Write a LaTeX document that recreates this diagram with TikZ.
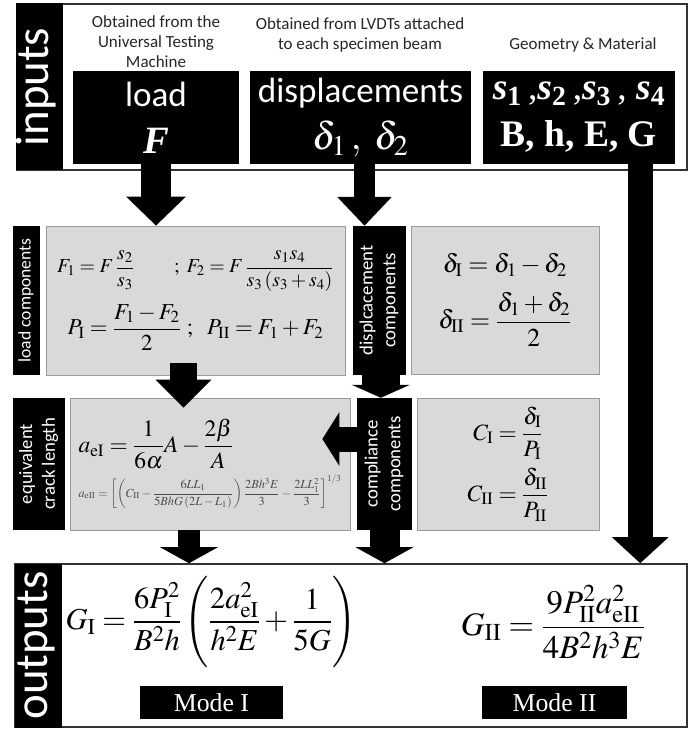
\documentclass[tikz,border=0pt]{standalone}
\usepackage{mathptmx}
\usepackage{graphicx}
\usepackage{fontspec}
\setmainfont{Liberation Serif}
\newfontfamily\calibri{Carlito}
\usetikzlibrary{arrows.meta,positioning}

\newcommand\vtext[1]{\rotatebox{90}{\begin{tabular}{@{}c@{}}#1\end{tabular}}}
\newcommand\bsub[1]{\textbf{\textit{s}}\textsubscript{\textbf{#1}}}

\tikzset{
  px/.style 2 args={minimum width=#1*0.3mm, minimum height=#2*0.3mm},
  blackbox/.style={fill=black, text=white, inner sep=0pt, align=center},
  graybox/.style={fill=black!15, draw=black!40, line width=0.6pt, inner sep=0pt},
  framebox/.style={draw=black!80, line width=1.3pt, inner sep=0pt},
  caption/.style={font=\calibri\fontsize{14.5}{17}\selectfont, align=center, text=black!85},
  sidelabel/.style={blackbox, font=\calibri\fontsize{16}{19.5}\selectfont},
  biglabel/.style={blackbox, font=\calibri\fontsize{40}{40}\selectfont},
  fat/.style n args={3}{line width=#1, -{Triangle[width=#2, length=#3]}},
}

\begin{document}
\begin{tikzpicture}[x=0.3mm, y=-0.3mm]
\useasboundingbox (0,0) rectangle (697,731);

% inputs
\node[framebox, px={670}{166}] (inframe) at (352,87) {};
\node[biglabel, px={45}{167}] (inlabel) at (39.5,87) {\vtext{inputs}};

\node[caption] (cap1) at (156,42) {Obtained from the\\Universal Testing\\Machine};
\node[caption] (cap2) at (360,35) {Obtained from LVDTs attached\\to each specimen beam};
\node[caption] (cap3) at (583,45) {Geometry \& Material};

\node[blackbox, px={166}{93}, font=\calibri\fontsize{30}{40}\selectfont] (load) at (156,117.5)
  {load\\{\rmfamily\bfseries\itshape\fontsize{33}{40}\selectfont F}};
\node[blackbox, px={221}{93}, font=\calibri\fontsize{30}{40}\selectfont] (disp) at (360.5,117.5)
  {displacements\\{\fontsize{33}{40}\selectfont$\delta_1\,,\ \delta_2$}};
\node[blackbox, px={192}{93}, font=\rmfamily\fontsize{32}{40}\selectfont] (geom) at (579,117.5)
  {\bsub{1}\,,\bsub{2}\,,\bsub{3}\,, \bsub{4}\\\textbf{B, h, E, G}};

% load and displacement components
\node[sidelabel, px={27}{149}, font=\calibri\fontsize{15}{18}\selectfont] (lclabel) at (26.5,300.5) {\vtext{load components}};
\node[graybox, px={299}{149}, align=center, font=\fontsize{17}{20}\selectfont] (lcgray) at (195.5,300.5)
  {$\displaystyle F_1 = F\,\frac{s_2}{s_3}\qquad ;\ F_2 = F\,\frac{s_1s_4}{s_3\left(s_3+s_4\right)}$\\[10pt]
   {\fontsize{19.5}{22}\selectfont$\displaystyle P_{\mathrm{I}} = \frac{F_1-F_2}{2}\ ;\ \ P_{\mathrm{II}} = F_1+F_2$}};
\node[sidelabel, px={53}{149}] (dclabel) at (379.5,300.5) {\vtext{displcacement\\components}};
\node[graybox, px={188}{148}, align=center, font=\fontsize{22}{26}\selectfont] (dcgray) at (505,300)
  {$\delta_{\mathrm{I}} = \delta_1-\delta_2$\\[12pt]
   $\displaystyle \delta_{\mathrm{II}} = \frac{\delta_1+\delta_2}{2}$};

% crack length and compliance
\node[sidelabel, px={52}{132}] (eqlabel) at (39,464) {\vtext{equivalent\\crack length}};
\node[graybox, px={280}{132}, align=left, font=\fontsize{20}{24}\selectfont] (eqgray) at (210,464)
  {$\displaystyle a_{\mathrm{eI}} = \frac{1}{6\alpha}A-\frac{2\beta}{A}$\\[4pt]
   {\color{black!70}\fontsize{10.5}{13}\selectfont$\displaystyle a_{\mathrm{eII}} = \left[\left(C_{\mathrm{II}}-\frac{6LL_1}{5BhG\left(2L-L_1\right)}\right)\frac{2Bh^3E}{3}-\frac{2LL_1^2}{3}\right]^{1/3}$}};
\node[sidelabel, px={55}{132}] (cclabel) at (384.5,464) {\vtext{compliance\\components}};
\node[graybox, px={182}{132}, align=center, font=\fontsize{20}{24}\selectfont] (ccgray) at (508,464)
  {$\displaystyle C_{\mathrm{I}} = \frac{\delta_{\mathrm{I}}}{P_{\mathrm{I}}}$\\[6pt]
   $\displaystyle C_{\mathrm{II}} = \frac{\delta_{\mathrm{II}}}{P_{\mathrm{II}}}$};

% outputs
\node[framebox, px={672}{163}] (outframe) at (351,645.5) {};
\node[biglabel, px={47}{164}] (outlabel) at (38.5,645.5) {\vtext{outputs}};
\node[font=\fontsize{26}{30}\selectfont] (gone) at (211,622)
  {$\displaystyle G_{\mathrm{I}} = \frac{6P_{\mathrm{I}}^2}{B^2h}\left(\frac{2a_{\mathrm{eI}}^2}{h^2E}+\frac{1}{5G}\right)$};
\node[font=\fontsize{28}{32}\selectfont] (gtwo) at (553,622)
  {$\displaystyle G_{\mathrm{II}} = \frac{9P_{\mathrm{II}}^2a_{\mathrm{eII}}^2}{4B^2h^3E}$};
\node[blackbox, px={143}{33}, font=\fontsize{22}{26}\selectfont] (modeone) at (211.5,702.5) {Mode I};
\node[blackbox, px={145}{33}, font=\fontsize{22}{26}\selectfont] (modetwo) at (554.5,702.5) {Mode II};

% block arrows
\draw[fat={9mm}{17.4mm}{8.7mm}] (load.south) -- (load.south |- lcgray.north);
\draw[fat={6.3mm}{15.9mm}{8.7mm}] ([xshift=1.2mm]disp.south) -- ([xshift=1.2mm]disp.south |- dclabel.north);
\draw[fat={7.5mm}{16.5mm}{7.8mm}] ([xshift=-10.5mm]geom.south east) -- ([xshift=-10.5mm]geom.south east |- outframe.north);
\draw[fat={8.1mm}{16.2mm}{8.4mm}] ([xshift=-3.6mm,yshift=3.6mm]lcgray.south) -- ([xshift=-3.6mm,yshift=-3mm]lcgray.south |- eqgray.north);
\draw[fat={11.4mm}{17.4mm}{3.9mm}] ([xshift=0.4mm,yshift=1mm]dclabel.south) -- ([xshift=0.4mm]dclabel.south |- cclabel.north);
\draw[fat={7.5mm}{15.9mm}{5.1mm}] ([yshift=7.5mm]cclabel.west) -- ([xshift=-8.4mm,yshift=7.5mm]eqgray.east);
\draw[fat={6.6mm}{17.1mm}{4.8mm}] ([xshift=-6.3mm]eqgray.south) -- ([xshift=-6.3mm]eqgray.south |- outframe.north);
\draw[fat={9mm}{17.1mm}{4.8mm}] ([yshift=1mm]cclabel.south) -- (cclabel.south |- outframe.north);

\end{tikzpicture}
\end{document}
